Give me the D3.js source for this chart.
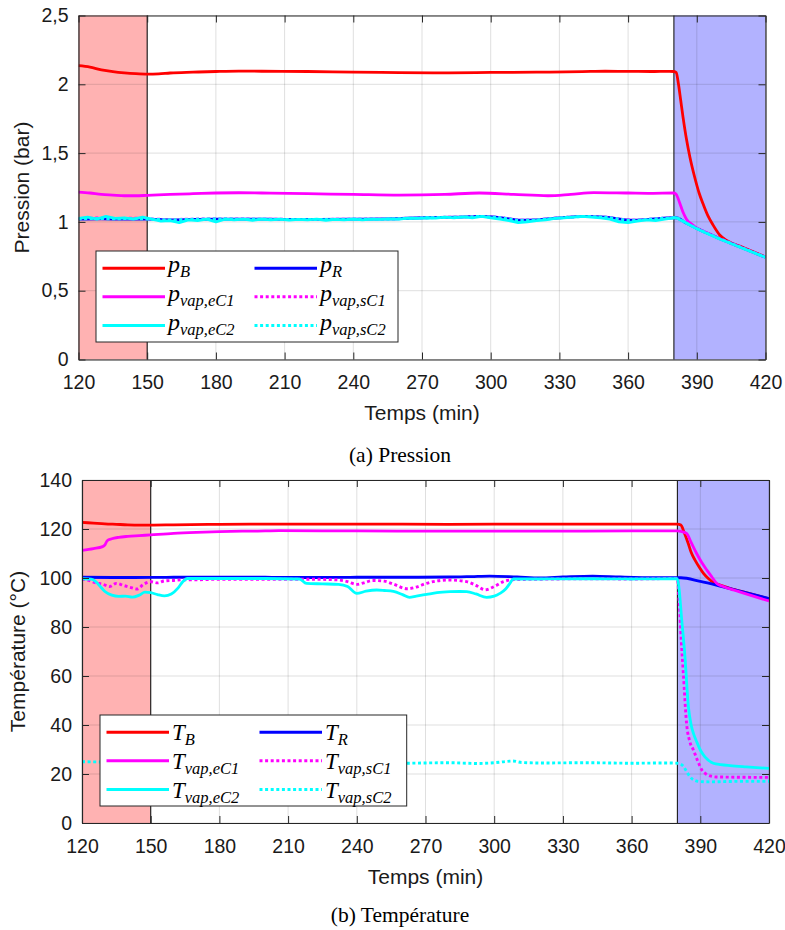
<!DOCTYPE html>
<html>
<head>
<meta charset="utf-8">
<script src="https://cdn.jsdelivr.net/npm/d3@7"></script>
<style>
  html, body { margin: 0; padding: 0; background: #ffffff; }
  svg { display: block; }
</style>
</head>
<body>
<svg id="chart" width="785" height="930"></svg>
<script>
// ---------------- DATA ----------------
const timeTicks = [120, 150, 180, 210, 240, 270, 300, 330, 360, 390, 420];
const pressureTicks = [0, 0.5, 1, 1.5, 2, 2.5];
const pressureTickLabels = ["0", "0,5", "1", "1,5", "2", "2,5"];
const tempTicks = [0, 20, 40, 60, 80, 100, 120, 140];
const tempTickLabels = ["0", "20", "40", "60", "80", "100", "120", "140"];
const warmupPhase = [120, 150];
const coolingPhase = [380, 420];

// ---- Pression (bar) ----
const pB_t = [120,125,130,135,140,145,150,155,160,170,180,190,200,220,240,260,280,300,320,340,350,360,370,378,380,381,382,383,384,385.5,387,389,391,393,395,397,400,403,410,420];
const pB_v = [2.135,2.125,2.105,2.092,2.083,2.077,2.074,2.076,2.082,2.088,2.093,2.096,2.095,2.093,2.088,2.085,2.083,2.086,2.088,2.092,2.095,2.094,2.093,2.094,2.093,2.085,2.0,1.88,1.76,1.6,1.47,1.33,1.21,1.12,1.04,0.98,0.905,0.865,0.815,0.745];

const pR_t = [120,130,140,150,160,170,180,200,220,240,255,270,285,295,305,313,320,330,342,350,362,370,380,381,385,390,395,400,403,410,420];
const pR_v = [1.02,1.022,1.02,1.02,1.015,1.018,1.02,1.02,1.018,1.02,1.022,1.03,1.035,1.04,1.03,1.012,1.015,1.03,1.04,1.035,1.012,1.02,1.03,1.03,0.995,0.953,0.915,0.878,0.858,0.81,0.743];

const pEC1_t = [120,125,130,135,140,145,150,160,170,180,190,200,220,240,260,280,295,310,325,335,345,360,370,380,381,382.5,384,385.5,388,390,395,400,410,420];
const pEC1_v = [1.217,1.21,1.20,1.195,1.19,1.19,1.193,1.20,1.205,1.21,1.212,1.21,1.205,1.20,1.195,1.20,1.21,1.20,1.19,1.20,1.213,1.21,1.208,1.21,1.20,1.14,1.07,1.02,0.98,0.955,0.915,0.878,0.81,0.743];

const pSC1_t = [120,128,136,144,150,160,170,180,200,220,240,255,270,285,295,305,313,320,330,342,350,362,370,380,381,385,390,395,400,403,410,420];
const pSC1_v = [1.025,1.028,1.024,1.027,1.022,1.018,1.02,1.022,1.02,1.018,1.02,1.022,1.03,1.035,1.04,1.03,1.013,1.016,1.03,1.04,1.035,1.013,1.02,1.032,1.03,0.996,0.954,0.916,0.879,0.859,0.81,0.744];

const pEC2_t = [120,124,128,132,136,140,144,148,152,156,160,164,168,172,176,180,184,188,192,196,200,204,208,212,216,220,224,228,232,236,240,244,248,252,256,260,264,268,272,276,280,284,288,292,296,300,304,308,312,316,320,324,328,332,336,340,344,348,352,356,360,364,368,372,376,380,381,385,390,395,400,403,410,420];
const pEC2_v = [1.025,1.035,1.02,1.04,1.025,1.03,1.02,1.035,1.02,1.005,1.01,0.995,1.015,1.01,1.02,1.0,1.02,1.015,1.02,1.012,1.02,1.015,1.02,1.013,1.018,1.015,1.02,1.012,1.018,1.015,1.02,1.015,1.02,1.018,1.022,1.02,1.028,1.025,1.03,1.028,1.035,1.03,1.036,1.03,1.04,1.03,1.02,1.01,0.995,1.0,1.01,1.015,1.025,1.03,1.035,1.04,1.035,1.03,1.02,1.0,0.995,1.005,1.015,1.01,1.02,1.03,1.03,0.995,0.95,0.912,0.876,0.856,0.808,0.742];

const pSC2_t = [120,128,136,144,150,160,170,180,200,220,240,255,270,285,295,305,313,320,330,342,350,362,370,380,381,385,390,395,400,403,410,420];
const pSC2_v = [1.022,1.025,1.022,1.025,1.02,1.016,1.019,1.021,1.019,1.017,1.019,1.021,1.029,1.034,1.039,1.029,1.011,1.015,1.029,1.039,1.034,1.011,1.019,1.03,1.03,0.995,0.952,0.914,0.877,0.857,0.809,0.743];

// ---- Température (°C) ----
const TB_t = [120,125,130,135,140,145,150,160,180,200,240,280,320,360,380,381.5,383,384.7,386,387.7,389.5,391.4,393.5,395.7,398,403,410,420];
const TB_v = [122.7,122.4,122.1,121.9,121.7,121.6,121.6,121.7,121.9,122,122,121.9,122,122,122,121.6,118.5,114.2,110.5,107.3,104.5,101.9,99.8,98.2,97.3,95.8,94,91.5];

const TR_t = [120,140,160,180,200,220,240,260,280,290,298,310,320,330,343,355,370,381.5,390,397,405,412,420];
const TR_v = [100.3,100.2,100.3,100.3,100.3,100.2,100.3,100.3,100.4,100.6,100.8,100.4,100,100.4,100.8,100.4,100.1,100.1,98.6,97.1,95.2,93.5,91.6];

const TEC1_t = [120,125,129,130,131,133,136,140,145,150,160,170,180,190,200,206,240,280,320,360,380,381.5,384,386,388.4,390.5,392.8,395,397.2,400,405,410,420];
const TEC1_v = [111.3,112,112.8,113.5,115.2,116,116.6,117,117.3,117.6,118.2,118.6,118.9,119.1,119.2,119.3,119.2,119.1,119.1,119.2,119.2,119,118.2,114.5,110,106.5,103.3,100.5,97.8,96.5,95,93.5,90.6];

const TSC1_t = [120,123,126,129,132,135,138,141,144,147,150,153,156,160,165,170,180,200,220,232,236,240,243,247,252,256,262,266,270,275,280,288,292,296,300,304,308,320,340,360,380,380.8,381.7,382.6,384,385.5,387,389,390.7,392.5,394.3,397,405,420];
const TSC1_v = [99.5,99,98,97.5,96.5,97.8,97,96.2,95.5,97.5,98.5,98,98.8,99,99.3,99.3,99.5,99.5,99.5,99.2,98.5,97.4,98,99,98.7,97.5,95.6,96.3,97.7,98.8,99.2,98.5,97,95.2,96.5,98.5,99.3,99.5,99.7,99.6,99.8,90,74.3,61,40.7,33,29.8,25,21.6,20,19.2,18.8,18.7,18.6];

const TEC2_t = [120,124,126,128,130,133,136,139,142,145,147.5,150,153,156,159,162,164,166,170,200,215,218,225,232,236,240,244,248.7,252,256,260,263,266,270.5,275,280.7,285,288,292,296.7,300,302.5,305,307,308.3,320,340,360,380,380.8,381.7,383.3,384.8,386,387,388.5,390,392,395.7,399,403,410,420];
const TEC2_v = [99.7,99.5,98.5,96.5,94.5,93,92.5,92.6,92.2,93,94.2,94,93.2,92.7,93.5,96,98.5,99.8,99.8,99.8,99.6,97.8,97.6,97.4,96.5,93.7,94.6,95.1,94.9,94.5,93.2,92.1,92.6,93.3,94,94.4,94.5,94.4,93.5,92.1,92.6,93.7,95.5,98,99.6,99.6,99.7,99.6,99.7,95,85,67.9,47.5,40,36.6,33,29.8,27,24.4,23.8,23.4,22.9,22.3];

const TSC2_t = [120,140,160,180,200,220,240,260,280,293,300,305,308,312,320,340,360,375,380,381.5,382.6,384,385.5,387,390,395,400,410,420];
const TSC2_v = [25,24.8,24.6,24.4,24.5,24.3,24.6,24.4,24.6,24.3,24.6,25.1,25.3,24.7,24.5,24.6,24.4,24.5,24.4,24,23.2,21,18.9,17.6,16.9,16.8,16.9,17,17];

const seriesSubs = ["B", "R", "vap,eC1", "vap,sC1", "vap,eC2", "vap,sC2"];
const seriesColors = ["#ff0000", "#0000ff", "#ff00ff", "#ff00ff", "#00ffff", "#00ffff"];
const seriesDotted = [false, false, false, true, false, true];

// ---------------- DRAW ----------------
const svg = d3.select("#chart");
const AX = "#262626";
const TICK_FONT = "'Liberation Sans', Arial, Helvetica, sans-serif";
const SERIF = "'Liberation Serif', 'Times New Roman', serif";

function drawPanel(cfg) {
  const g = svg.append("g");
  const x = d3.scaleLinear().domain([120, 420]).range([cfg.x0, cfg.x1]);
  const y = d3.scaleLinear().domain(cfg.yDomain).range([cfg.y1, cfg.y0]);
  const clipId = "clip" + cfg.id;
  svg.append("clipPath").attr("id", clipId).append("rect")
    .attr("x", cfg.x0).attr("y", cfg.y0).attr("width", cfg.x1 - cfg.x0).attr("height", cfg.y1 - cfg.y0);

  // phase patches
  g.append("rect").attr("x", x(warmupPhase[0])).attr("y", cfg.y0)
    .attr("width", x(warmupPhase[1]) - x(warmupPhase[0])).attr("height", cfg.y1 - cfg.y0)
    .attr("fill", "#ffb2b2");
  g.append("rect").attr("x", x(coolingPhase[0])).attr("y", cfg.y0)
    .attr("width", x(coolingPhase[1]) - x(coolingPhase[0])).attr("height", cfg.y1 - cfg.y0)
    .attr("fill", "#b2b2ff");

  // grid
  const grid = g.append("g").attr("stroke", "rgba(38,38,38,0.15)").attr("stroke-width", 1);
  timeTicks.forEach(t => {
    grid.append("line").attr("x1", x(t)).attr("x2", x(t)).attr("y1", cfg.y0).attr("y2", cfg.y1);
  });
  cfg.yTicks.forEach(v => {
    grid.append("line").attr("x1", cfg.x0).attr("x2", cfg.x1).attr("y1", y(v)).attr("y2", y(v));
  });

  // patch edges
  [warmupPhase[1], coolingPhase[0]].forEach(t => {
    g.append("line").attr("x1", x(t)).attr("x2", x(t)).attr("y1", cfg.y0).attr("y2", cfg.y1)
      .attr("stroke", "#1a1a1a").attr("stroke-width", 1.1);
  });

  // series
  const smooth = d3.line().x(d => x(d[0])).y(d => y(d[1])).curve(d3.curveMonotoneX);
  const jagged = d3.line().x(d => x(d[0])).y(d => y(d[1])).curve(d3.curveLinear);
  const lg = g.append("g").attr("clip-path", `url(#${clipId})`);
  cfg.series.forEach((s, i) => {
    const pts = s.t.map((t, k) => [t, s.v[k]]);
    lg.append("path").datum(pts).attr("d", s.noisy ? jagged : smooth)
      .attr("fill", "none")
      .attr("stroke", seriesColors[i])
      .attr("stroke-width", seriesDotted[i] ? 2.9 : 2.8)
      .attr("stroke-dasharray", seriesDotted[i] ? "3,2.6" : null)
      .attr("stroke-linejoin", "round");
  });

  // axes
  const fmtY = v => cfg.yLabels[cfg.yTicks.indexOf(v)];
  const bottom = g.append("g").attr("transform", `translate(0,${cfg.y1})`)
    .call(d3.axisBottom(x).tickValues(timeTicks).tickSizeInner(-7).tickSizeOuter(0).tickPadding(16).tickFormat(d3.format("d")));
  const top = g.append("g").attr("transform", `translate(0,${cfg.y0})`)
    .call(d3.axisTop(x).tickValues(timeTicks).tickSizeInner(-7).tickSizeOuter(0).tickFormat(""));
  const left = g.append("g").attr("transform", `translate(${cfg.x0},0)`)
    .call(d3.axisLeft(y).tickValues(cfg.yTicks).tickSizeInner(-7).tickSizeOuter(0).tickPadding(10).tickFormat(fmtY));
  const right = g.append("g").attr("transform", `translate(${cfg.x1},0)`)
    .call(d3.axisRight(y).tickValues(cfg.yTicks).tickSizeInner(-7).tickSizeOuter(0).tickFormat(""));
  [bottom, top, left, right].forEach(a => {
    a.select(".domain").attr("stroke", AX).attr("stroke-width", 1.2);
    a.selectAll(".tick line").attr("stroke", AX).attr("stroke-width", 1);
    a.selectAll("text").attr("font-family", TICK_FONT).attr("font-size", 19.5).attr("fill", "#1a1a1a");
  });

  // axis labels
  svg.append("text").attr("x", (cfg.x0 + cfg.x1) / 2).attr("y", cfg.xLabelY)
    .attr("text-anchor", "middle").attr("font-family", TICK_FONT).attr("font-size", 21).attr("fill", "#1a1a1a")
    .text("Temps (min)");
  svg.append("text").attr("transform", `translate(${cfg.yLabelX},${(cfg.y0 + cfg.y1) / 2}) rotate(-90)`)
    .attr("text-anchor", "middle").attr("font-family", TICK_FONT).attr("font-size", 21).attr("fill", "#1a1a1a")
    .text(cfg.yTitle);

  // caption
  svg.append("text").attr("x", 400).attr("y", cfg.captionY).attr("text-anchor", "middle")
    .attr("font-family", SERIF).attr("font-size", 21.5).attr("fill", "#000").text(cfg.caption);

  // legend
  const L = cfg.legend;
  const leg = svg.append("g").attr("transform", `translate(${L.x},${L.y})`);
  leg.append("rect").attr("x", 0).attr("y", 0).attr("width", L.w).attr("height", 91)
    .attr("fill", "#ffffff").attr("stroke", AX).attr("stroke-width", 1);
  const rowY = [17.3, 45.7, 74.5];
  const colLine = [[6.5, 69], [158.5 + L.dx, 221 + L.dx]];
  const colText = [72, 224 + L.dx];
  seriesSubs.forEach((sub, i) => {
    const c = i % 2, r = Math.floor(i / 2);
    leg.append("line").attr("x1", colLine[c][0]).attr("x2", colLine[c][1])
      .attr("y1", rowY[r]).attr("y2", rowY[r])
      .attr("stroke", seriesColors[i]).attr("stroke-width", 3)
      .attr("stroke-dasharray", seriesDotted[i] ? "3,2.6" : null);
    const t = leg.append("text").attr("x", colText[c]).attr("y", rowY[r] + cfg.legBase)
      .attr("font-family", SERIF).attr("font-style", "italic").attr("fill", "#000");
    t.append("tspan").attr("font-size", cfg.legMain).text(cfg.legSymbol);
    t.append("tspan").attr("font-size", 16.5).attr("dy", 5).text(sub);
  });
}

drawPanel({
  id: "P", x0: 78.5, x1: 765.5, y0: 15.5, y1: 359.5,
  yDomain: [0, 2.5], yTicks: pressureTicks, yLabels: pressureTickLabels,
  yTitle: "Pression (bar)", yLabelX: 29, xLabelY: 420, captionY: 462, caption: "(a) Pression",
  legend: { x: 96, y: 251, w: 302, dx: 0 }, legSymbol: "p", legMain: 24, legBase: 4,
  series: [
    { t: pB_t, v: pB_v }, { t: pR_t, v: pR_v }, { t: pEC1_t, v: pEC1_v },
    { t: pSC1_t, v: pSC1_v }, { t: pEC2_t, v: pEC2_v, noisy: true }, { t: pSC2_t, v: pSC2_v }
  ]
});

drawPanel({
  id: "T", x0: 82, x1: 769, y0: 480, y1: 823,
  yDomain: [0, 140], yTicks: tempTicks, yLabels: tempTickLabels,
  yTitle: "Température (°C)", yLabelX: 25, xLabelY: 884, captionY: 922, caption: "(b) Température",
  legend: { x: 100, y: 715, w: 306.7, dx: 1 }, legSymbol: "T", legMain: 23, legBase: 8,
  series: [
    { t: TB_t, v: TB_v }, { t: TR_t, v: TR_v }, { t: TEC1_t, v: TEC1_v },
    { t: TSC1_t, v: TSC1_v }, { t: TEC2_t, v: TEC2_v }, { t: TSC2_t, v: TSC2_v }
  ]
});
</script>
</body>
</html>
